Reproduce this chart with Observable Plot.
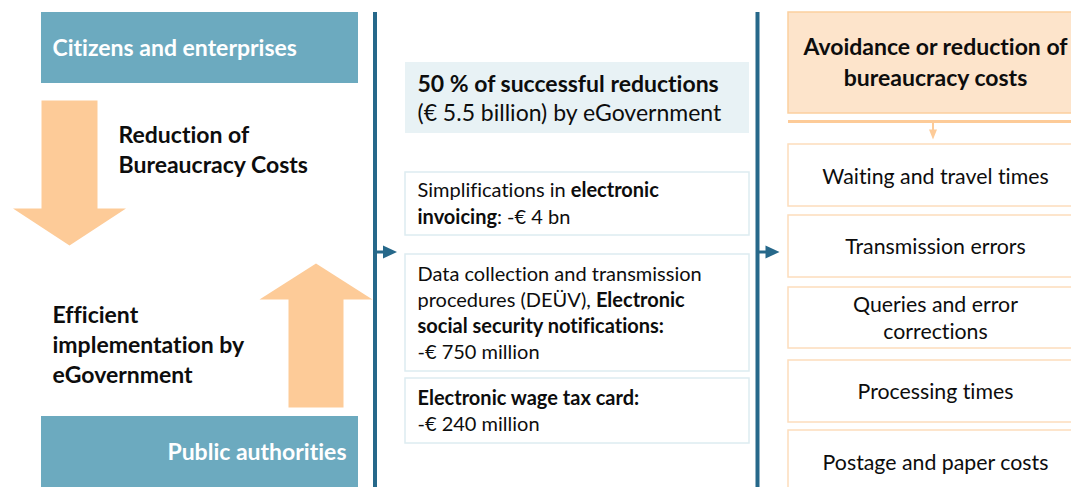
<!DOCTYPE html>
<html>
<head>
<meta charset="utf-8">
<script src="https://cdn.jsdelivr.net/npm/d3@7"></script>
<script src="https://cdn.jsdelivr.net/npm/@observablehq/plot@0.6"></script>
<style>
  html, body { margin: 0; padding: 0; background: #ffffff; overflow: hidden; }
  #chart svg { display: block; overflow: hidden; }
  #chart svg text { font-variant-ligatures: none; font-feature-settings: "liga" 0, "clig" 0; }
</style>
</head>
<body>
<div id="chart"></div>
<script>
// ---------- DATA (texts) ----------
const leftHeaders = ["Citizens and enterprises", "Public authorities"];
const leftLabelsTop = ["Reduction of", "Bureaucracy Costs"];
const leftLabelsBottom = ["Efficient", "implementation by", "eGovernment"];
const midTitle = ["**50 % of successful reductions**", "(€ 5.5 billion) by eGovernment"];
const midItems = [
  ["Simplifications in **electronic**", "**invoicing**: -€ 4 bn"],
  ["Data collection and transmission", "procedures (DEÜV), **Electronic**", "**social security notifications:**", "-€ 750 million"],
  ["**Electronic wage tax card:**", "-€ 240 million"]
];
const rightTitle = ["Avoidance or reduction of", "bureaucracy costs"];
const rightItems = [
  ["Waiting and travel times"],
  ["Transmission errors"],
  ["Queries and error", "corrections"],
  ["Processing times"],
  ["Postage and paper costs"]
];

// ---------- LAYOUT (positions, sizes) ----------
const W = 1071, H = 487;
const leftHeaderBoxes = [
  {x1: 41, x2: 358, y1: 12, y2: 83, tx: 52, ty: 48, anchor: "start"},
  {x1: 41, x2: 358, y1: 416, y2: 500, tx: 346, ty: 452, anchor: "end"}
];
const leftTopLayout = {x: 118, y0: 135.5, dy: 29.5};
const leftBottomLayout = {x: 52, y0: 315.5, dy: 30};
const downArrow = {cx: 69, shaftHalf: 28, headHalf: 56.5, top: 100, headY: 208, tip: 245};
const upArrow = {cx: 315.5, shaftHalf: 27.5, headHalf: 56.5, bottom: 407, headY: 299, tip: 263};
const dividers = [{x: 374.5}, {x: 757}];
const dividerTop = 12;
const sideArrows = [{x: 376.5, y: 251.5}, {x: 759, y: 251.5}];
const midBoxX = [405, 749];
const midTitleBox = {y1: 62, y2: 133, y0: 84, dy: 29.5};
const midItemBoxes = [
  {y1: 172, y2: 235, y0: 190.5, dy: 26.5},
  {y1: 254, y2: 371, y0: 274.5, dy: 26},
  {y1: 378, y2: 443, y0: 398.5, dy: 26}
];
const midTextX = 417;
const rightBoxX = [788, 1090];
const rightTextX = 935;
const rightTitleBox = {y1: 12, y2: 113, y0: 47.5, dy: 31};
const rightRuleY = 121;
const rightSmallArrow = {x: 932.5, y1: 123, y2: 139};
const rightItemBoxes = [
  {y1: 144, y2: 206, y0: 176.5, dy: 27},
  {y1: 215, y2: 277, y0: 246.5, dy: 27},
  {y1: 287, y2: 348, y0: 304.5, dy: 27},
  {y1: 360, y2: 422, y0: 391.5, dy: 27},
  {y1: 430, y2: 500, y0: 462.5, dy: 27}
];

// ---------- STYLES ----------
const C = {
  blue: "#6CAABF",
  dark: "#26688A",
  orange: "#FDCB98",
  peach: "#FDE4CB",
  peachBorder: "#FBCF9F",
  itemBorder: "#FDDDBC",
  lightBlue: "#E8F2F5",
  midBorder: "#DDECF1",
  text: "#0d0d0d"
};
const FONT = "Lato, 'Open Sans', sans-serif";
const SIZE = {header: 23, leftLabel: 23, midTitle: 23, midItem: 20, rightTitle: 23, rightItem: 21.3};

// ---------- BUILD TABLES ----------
const headerRects = leftHeaderBoxes.map((b, i) => ({...b, label: leftHeaders[i]}));
const lineRows = (lines, x, y0, dy, extra) => lines.map((t, i) => ({x, y: y0 + i * dy, t, ...extra}));

const polyDown = (a => [
  [a.cx - a.shaftHalf, a.top], [a.cx + a.shaftHalf, a.top], [a.cx + a.shaftHalf, a.headY],
  [a.cx + a.headHalf, a.headY], [a.cx, a.tip], [a.cx - a.headHalf, a.headY],
  [a.cx - a.shaftHalf, a.headY], [a.cx - a.shaftHalf, a.top]
].map(([x, y]) => ({x, y, id: "down"})))(downArrow);
const polyUp = (a => [
  [a.cx - a.shaftHalf, a.bottom], [a.cx + a.shaftHalf, a.bottom], [a.cx + a.shaftHalf, a.headY],
  [a.cx + a.headHalf, a.headY], [a.cx, a.tip], [a.cx - a.headHalf, a.headY],
  [a.cx - a.shaftHalf, a.headY], [a.cx - a.shaftHalf, a.bottom]
].map(([x, y]) => ({x, y, id: "up"})))(upArrow);

const sideTriangles = sideArrows.flatMap((a, i) => [
  [a.x + 6, a.y - 6.5], [a.x + 20, a.y], [a.x + 6, a.y + 6.5], [a.x + 6, a.y - 6.5]
].map(([x, y]) => ({x, y, id: "tri" + i})));
const sideShafts = sideArrows.map(a => ({x1: a.x, x2: a.x + 8, y: a.y}));

const smallDownTri = [
  [rightSmallArrow.x - 4, rightSmallArrow.y1 + 6], [rightSmallArrow.x + 4, rightSmallArrow.y1 + 6],
  [rightSmallArrow.x, rightSmallArrow.y2], [rightSmallArrow.x - 4, rightSmallArrow.y1 + 6]
].map(([x, y]) => ({x, y, id: "small"}));

const midRects = midItemBoxes.map(b => ({x1: midBoxX[0], x2: midBoxX[1], y1: b.y1, y2: b.y2}));
const rightRects = rightItemBoxes.map(b => ({x1: rightBoxX[0], x2: rightBoxX[1], y1: b.y1, y2: b.y2}));

const midTitleRows = lineRows(midTitle, midTextX, midTitleBox.y0, midTitleBox.dy);
const midItemRows = midItems.flatMap((lines, i) => lineRows(lines, midTextX, midItemBoxes[i].y0, midItemBoxes[i].dy));
const rightTitleRows = lineRows(rightTitle, rightTextX, rightTitleBox.y0, rightTitleBox.dy);
const rightItemRows = rightItems.flatMap((lines, i) => lineRows(lines, rightTextX, rightItemBoxes[i].y0, rightItemBoxes[i].dy));
const leftTopRows = lineRows(leftLabelsTop, leftTopLayout.x, leftTopLayout.y0, leftTopLayout.dy);
const leftBottomRows = lineRows(leftLabelsBottom, leftBottomLayout.x, leftBottomLayout.y0, leftBottomLayout.dy);

const txt = (data, opts) => Plot.text(data, {x: "x", y: "y", text: "t", lineAnchor: "middle", fill: C.text, fontFamily: FONT, ...opts});
const headerText = anchor => Plot.text(headerRects.filter(d => d.anchor === anchor), {
  x: "tx", y: "ty", text: "label", textAnchor: anchor, fill: "white", fontWeight: "bold",
  fontSize: SIZE.header, lineAnchor: "middle", fontFamily: FONT
});

const plot = Plot.plot({
  width: W, height: H,
  margin: 0,
  x: {domain: [0, W], range: [0, W], axis: null},
  y: {domain: [0, H], range: [0, H], axis: null},
  style: {fontFamily: FONT, background: "#ffffff", overflow: "hidden"},
  marks: [
    // left column
    Plot.rect(headerRects, {x1: "x1", x2: "x2", y1: "y1", y2: "y2", fill: C.blue}),
    headerText("start"),
    headerText("end"),
    Plot.line(polyDown.concat(polyUp), {x: "x", y: "y", z: "id", fill: C.orange, stroke: "none", curve: "linear"}),
    txt(leftTopRows, {textAnchor: "start", fontWeight: "bold", fontSize: SIZE.leftLabel}),
    txt(leftBottomRows, {textAnchor: "start", fontWeight: "bold", fontSize: SIZE.leftLabel}),
    // dividers
    Plot.ruleX(dividers, {x: "x", y1: dividerTop, y2: H + 5, stroke: C.dark, strokeWidth: 4}),
    Plot.ruleY(sideShafts, {x1: "x1", x2: "x2", y: "y", stroke: C.dark, strokeWidth: 3}),
    Plot.line(sideTriangles, {x: "x", y: "y", z: "id", fill: C.dark, stroke: "none"}),
    // middle column
    Plot.rect([{x1: midBoxX[0], x2: midBoxX[1], y1: midTitleBox.y1, y2: midTitleBox.y2}], {x1: "x1", x2: "x2", y1: "y1", y2: "y2", fill: C.lightBlue}),
    Plot.rect(midRects, {x1: "x1", x2: "x2", y1: "y1", y2: "y2", fill: "white", stroke: C.midBorder, strokeWidth: 1.5}),
    txt(midTitleRows, {textAnchor: "start", fontSize: SIZE.midTitle}),
    txt(midItemRows, {textAnchor: "start", fontSize: SIZE.midItem}),
    // right column
    Plot.rect([{x1: rightBoxX[0], x2: rightBoxX[1], y1: rightTitleBox.y1, y2: rightTitleBox.y2}], {x1: "x1", x2: "x2", y1: "y1", y2: "y2", fill: C.peach, stroke: C.peachBorder, strokeWidth: 1.5}),
    Plot.ruleY([rightRuleY], {x1: rightBoxX[0], x2: rightBoxX[1], stroke: C.orange, strokeWidth: 3}),
    Plot.ruleX([rightSmallArrow], {x: "x", y1: "y1", y2: d => d.y1 + 7, stroke: C.orange, strokeWidth: 2}),
    Plot.line(smallDownTri, {x: "x", y: "y", z: "id", fill: C.orange, stroke: "none"}),
    Plot.rect(rightRects, {x1: "x1", x2: "x2", y1: "y1", y2: "y2", fill: "white", stroke: C.itemBorder, strokeWidth: 1.5}),
    txt(rightTitleRows, {textAnchor: "middle", fontWeight: "bold", fontSize: SIZE.rightTitle}),
    txt(rightItemRows, {textAnchor: "middle", fontSize: SIZE.rightItem})
  ]
});

// Convert **bold** markup into inline tspans (real text preserved)
d3.select(plot).selectAll("text").each(function () {
  const el = this;
  const s = el.textContent;
  if (!s.includes("**")) return;
  const parts = s.split("**");
  el.textContent = "";
  parts.forEach((p, i) => {
    if (!p) return;
    const ts = document.createElementNS("http://www.w3.org/2000/svg", "tspan");
    ts.textContent = p;
    if (i % 2 === 1) ts.setAttribute("font-weight", "bold");
    el.appendChild(ts);
  });
});

document.getElementById("chart").appendChild(plot);
</script>
</body>
</html>
